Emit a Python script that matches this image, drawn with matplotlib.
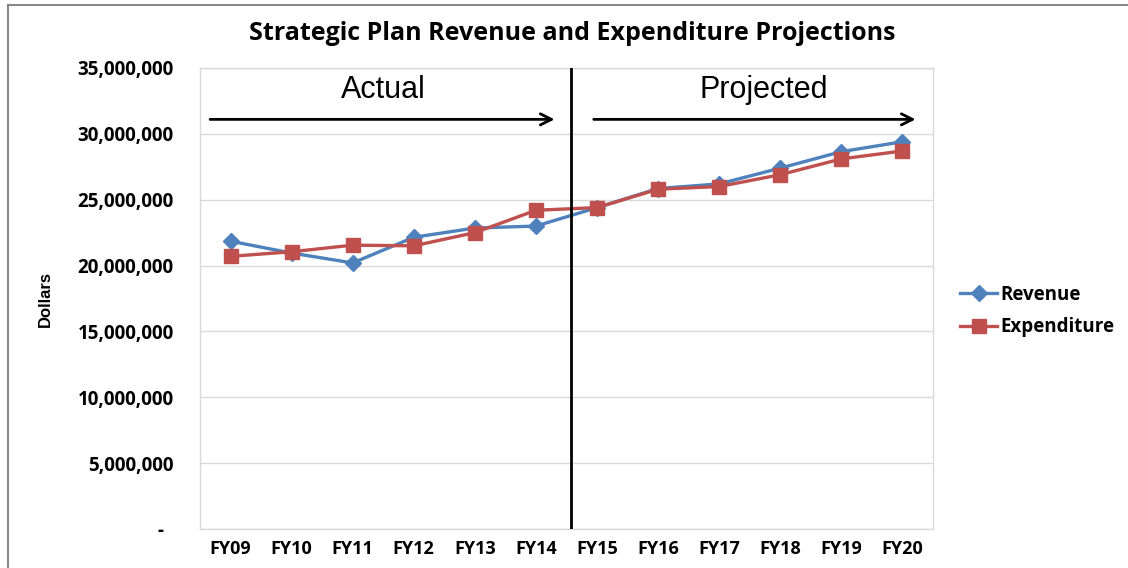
import matplotlib
matplotlib.use("Agg")
import matplotlib.pyplot as plt
from matplotlib.lines import Line2D
from matplotlib.ticker import FuncFormatter

years = ["FY09", "FY10", "FY11", "FY12", "FY13", "FY14",
         "FY15", "FY16", "FY17", "FY18", "FY19", "FY20"]
revenue = [21.85e6, 20.95e6, 20.2e6, 22.15e6, 22.85e6, 23.0e6,
           24.4e6, 25.85e6, 26.2e6, 27.4e6, 28.65e6, 29.4e6]
expenditure = [20.7e6, 21.05e6, 21.55e6, 21.5e6, 22.5e6, 24.2e6,
               24.4e6, 25.8e6, 26.0e6, 26.9e6, 28.1e6, 28.7e6]
yticks = [0, 5e6, 10e6, 15e6, 20e6, 25e6, 30e6, 35e6]

BLUE = "#4F81BD"
RED = "#C0504D"
GRID = "#d9d9d9"

fig = plt.figure(figsize=(11.28, 5.68), dpi=100)
ax = fig.add_axes([200/1128, 1-529/568, 733/1128, 461/568])

x = list(range(len(years)))
ax.plot(x, revenue, color=BLUE, lw=2.4, marker="D", ms=8, label="Revenue", zorder=3)
ax.plot(x, expenditure, color=RED, lw=2.4, marker="s", ms=10, label="Expenditure", zorder=4)

ax.set_xlim(-0.5, len(years)-0.5)
ax.set_ylim(0, 35e6)
ax.set_yticks(yticks)
ax.yaxis.set_major_formatter(FuncFormatter(lambda v, p: "-  " if v == 0 else f"{v:,.0f}"))
ax.set_xticks(x)
ax.set_xticklabels(years)
ax.grid(axis="y", color=GRID, lw=1)
ax.set_axisbelow(True)
for s in ax.spines.values():
    s.set_color(GRID)
    s.set_linewidth(1)
ax.tick_params(length=0)
ax.tick_params(axis="y", pad=19)
ax.tick_params(axis="x", pad=8)
for lab in ax.get_yticklabels():
    lab.set_fontfamily("Open Sans")
    lab.set_fontweight("bold")
    lab.set_fontsize(13.5)
for lab in ax.get_xticklabels():
    lab.set_fontfamily("Open Sans")
    lab.set_fontweight("bold")
    lab.set_fontsize(13)

# divider between actual and projected
ax.axvline(5.58, color="black", lw=2, zorder=5)

# arrows and labels
ax.annotate("", xy=(5.35, 31.1e6), xytext=(-0.38, 31.1e6),
            arrowprops=dict(arrowstyle="->", lw=2, color="black", mutation_scale=20))
ax.annotate("", xy=(11.26, 31.1e6), xytext=(5.9, 31.1e6),
            arrowprops=dict(arrowstyle="->", lw=2, color="black", mutation_scale=20))
ax.text(2.5, 33.3e6, "Actual", ha="center", va="center", fontsize=22, family="Liberation Sans")
ax.text(8.73, 33.3e6, "Projected", ha="center", va="center", fontsize=22, family="Liberation Sans")

ax.set_ylabel("Dollars", fontsize=12, fontweight="bold", family=["Liberation Sans Narrow", "Liberation Sans"])
ax.yaxis.set_label_coords(-147/733, 0.5)

fig.text(572/1128, 1-33/568, "Strategic Plan Revenue and Expenditure Projections",
         ha="center", va="center", fontsize=18, fontweight="bold", family="Open Sans")

handles = [Line2D([], [], color=BLUE, lw=2.4, marker="D", ms=8),
           Line2D([], [], color=RED, lw=2.4, marker="s", ms=10)]
leg = fig.legend(handles, ["Revenue", "Expenditure"], loc="center left",
                 bbox_to_anchor=(943/1128, 1-311/568), frameon=False,
                 handlelength=2.0, handletextpad=0.15, labelspacing=0.65,
                 prop=dict(family="Open Sans", weight="bold", size=13.5))

# outer frame (top and left only)
fig.add_artist(Line2D([8/1128, 1], [1-4.5/568, 1-4.5/568], color="#888888", lw=1.5))
fig.add_artist(Line2D([8/1128, 8/1128], [0, 1-4.5/568], color="#888888", lw=1.5))

fig.savefig("out.png", dpi=100)
